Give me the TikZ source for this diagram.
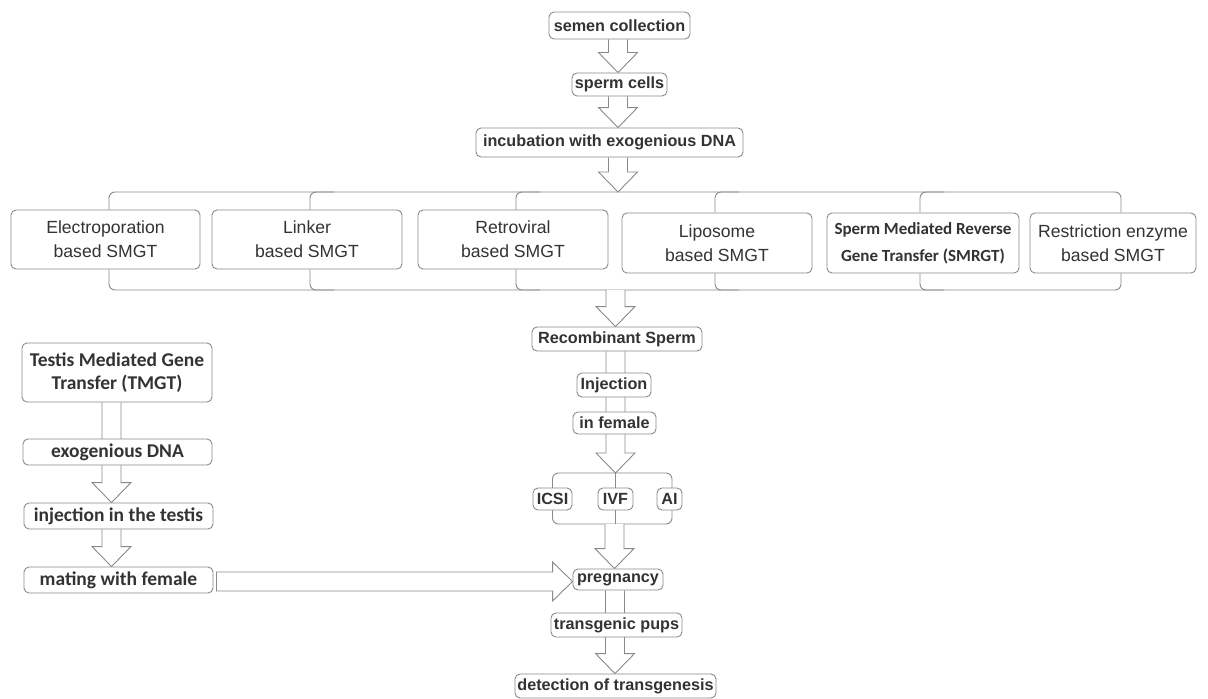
\documentclass[tikz,border=0pt]{standalone}
\usepackage{fontspec}
\setmainfont{Liberation Sans}
\newfontfamily\calfont{Carlito}
\usetikzlibrary{calc,backgrounds}
\definecolor{ln}{HTML}{8A8A8A}
\definecolor{tx}{HTML}{333333}
\tikzset{
  box/.style={draw=ln, line width=0.9pt, fill=white, rounded corners=5pt, text=tx, inner sep=0pt, align=center},
  flow/.style={box, font=\fontsize{16.2}{18}\selectfont\bfseries},
  meth/.style={box, font=\fontsize{17.6}{24}\selectfont},
  calb/.style={box, font=\fontsize{19.5}{23}\selectfont\calfont\bfseries},
  brk/.style={draw=ln, line width=0.9pt, rounded corners=6pt},
  barrow/.style={draw=ln, line width=0.9pt, fill=white, line join=miter},
}
% vertical block arrow: #1 = x, #2 = from, #3 = to
\newcommand\varr[3]{%
  \draw[barrow] let \p1=(#2), \p2=(#3) in
    (#1-9.5,\y1) -- (#1-9.5,\y2+20pt) -- (#1-19.5,\y2+20pt) -- (#1,\y2)
    -- (#1+19.5,\y2+20pt) -- (#1+9.5,\y2+20pt) -- (#1+9.5,\y1);}
% horizontal block arrow: #1 = y, #2 = from, #3 = to
\newcommand\harr[3]{%
  \draw[barrow] let \p1=(#2), \p2=(#3) in
    (\x1+3pt,#1-9.5) -- (\x2-20pt,#1-9.5) -- (\x2-20pt,#1-19.5) -- (\x2,#1)
    -- (\x2-20pt,#1+19.5) -- (\x2-20pt,#1+9.5) -- (\x1+3pt,#1+9.5) -- cycle;}
\begin{document}
\begin{tikzpicture}[x=1pt,y=-1pt]
\begin{pgfonlayer}{background}
  \path[use as bounding box, fill=white] (0,0) rectangle (1208,695);
\end{pgfonlayer}

% top flow
\node[flow, minimum width=141pt, minimum height=27pt] (sc) at (619.5,25.5) {semen collection};
\node[flow, minimum width=95pt, minimum height=23pt] (sp) at (619.5,84.5) {sperm cells};
\node[flow, minimum width=267pt, minimum height=29pt] (inc) at (609.5,142.5) {incubation with exogenious DNA};

% methods
\node[meth, minimum width=189pt, minimum height=59pt] (E) at (105.5,239.5) {Electroporation\\based SMGT};
\node[meth, minimum width=190pt, minimum height=59pt] (L) at (307,239.5) {Linker\\based SMGT};
\node[meth, minimum width=190pt, minimum height=59pt] (R) at (513,239.5) {Retroviral\\based SMGT};
\node[meth, minimum width=190pt, minimum height=60pt] (Lip) at (717,243) {Liposome\\based SMGT};
\node[box, font=\fontsize{17}{27}\selectfont\calfont\bfseries, minimum width=192pt, minimum height=60pt] (SM) at (923,243) {Sperm Mediated Reverse\\Gene Transfer (SMRGT)};
\node[meth, minimum width=166pt, minimum height=60pt] (Re) at (1113,243) {Restriction enzyme\\based SMGT};

% middle column
\node[flow, minimum width=170pt, minimum height=24pt] (rec) at (617,339) {Recombinant Sperm};
\node[flow, minimum width=74pt, minimum height=24pt] (inj) at (614,385) {Injection};
\node[flow, minimum width=83pt, minimum height=22pt] (fem) at (614.5,423) {in female};
\node[flow, minimum width=39pt, minimum height=22pt] (icsi) at (552.5,499) {ICSI};
\node[flow, minimum width=35pt, minimum height=22pt] (ivf) at (615.5,499) {IVF};
\node[flow, minimum width=25pt, minimum height=22pt] (ai) at (669.5,499) {AI};
\node[flow, minimum width=90pt, minimum height=21pt] (preg) at (618,579.5) {pregnancy};
\node[flow, minimum width=131pt, minimum height=24pt] (pups) at (616.5,625) {transgenic pups};
\node[flow, minimum width=201pt, minimum height=24pt] (det) at (615.5,686) {detection of transgenesis};

% left column
\node[calb, minimum width=190pt, minimum height=59pt] (tmgt) at (117,372.5) {Testis Mediated Gene\\Transfer (TMGT)};
\node[calb, minimum width=189pt, minimum height=26pt] (exo) at (117.5,452) {exogenious DNA};
\node[calb, minimum width=189pt, minimum height=26pt] (tes) at (118.5,516) {injection in the testis};
\node[calb, minimum width=189pt, minimum height=26pt] (mat) at (118.5,580) {mating with female};

% bracket coordinates
\coordinate (x1) at (109,192);
\coordinate (x2) at (310,192);
\coordinate (x3) at (516,192);
\coordinate (x4) at (715,192);
\coordinate (x5) at (920,192);
\coordinate (x6) at (1121,192);
\coordinate (btop) at (618,192);
\coordinate (bbot) at (615.5,290);
\coordinate (ktop) at (615,473);
\coordinate (kbot) at (615,524);

\begin{pgfonlayer}{background}
  % main bracket
  \draw[brk] (x1 |- E.north) -- (x1) -- (x6) -- (x6 |- Re.north);
  \draw[brk] (x1 |- E.south) -- (x1 |- bbot) -- (x6 |- bbot) -- (x6 |- Re.south);
  \foreach \c/\n in {x2/L, x3/R, x4/Lip, x5/SM} {
    \draw[brk] (\c |- \n.north) -- (\c) -- ++(24,0);
    \draw[brk] (\c |- \n.south) -- (\c |- bbot) -- ++(24,0);
  }
  % ICSI/IVF/AI bracket
  \draw[brk] (icsi.center |- ktop) rectangle (672,524);
  \draw[draw=ln, line width=0.9pt] (ktop) -- (kbot);

  % block arrows
  \varr{618}{sc.south}{sp.north}
  \varr{618}{sp.south}{inc.north}
  \varr{618}{inc.south}{btop}
  \varr{615.5}{bbot}{rec.north}
  \varr{615.5}{rec.south}{ktop}
  \varr{614.5}{kbot}{preg.north}
  \varr{615}{preg.south}{det.north}
  \varr{111.5}{tmgt.south}{tes.north}
  \varr{111.5}{tes.south}{mat.north}
  \harr{581.5}{mat.east}{preg.west}
\end{pgfonlayer}
\end{tikzpicture}
\end{document}
